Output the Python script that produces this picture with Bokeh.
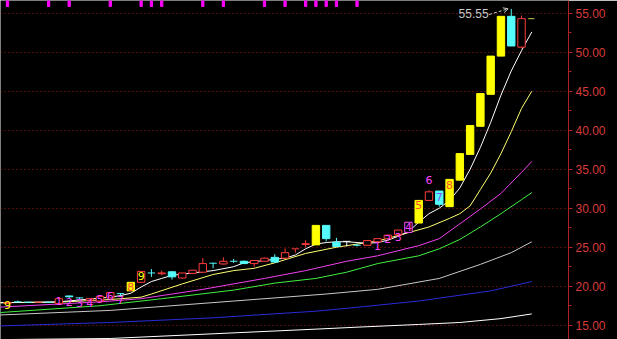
import numpy as np
from bokeh.plotting import figure
from bokeh.models import Range1d, SingleIntervalTicker, PrintfTickFormatter, Arrow, OpenHead
from bokeh.embed import file_html
from bokeh.resources import INLINE
from bokeh.core.properties import value

# ---------------- data ----------------
opens = [17.8, 18.0, 17.95, 17.9, 17.95, 17.8, 18.75, 18.5, 18.2, 18.1,
         18.5, 19.05, 19.4, 20.5, 21.7, 21.6, 21.85, 21.05, 21.65, 21.8,
         22.95, 22.85, 23.2, 23.2, 22.9, 23.2, 23.7, 23.6, 24.75, 25.35,
         25.3, 27.8, 25.65, 25.75, 25.25, 25.25, 25.7, 26.1, 26.6, 26.9,
         28.1, 31.0, 32.2, 30.2, 33.6, 36.9, 40.5, 44.6, 49.5, 54.6, 50.65]
highs = [17.95, 18.15, 18.0, 18.0, 18.0, 18.45, 18.8, 18.55, 18.5, 18.75,
         19.25, 19.1, 20.5, 21.95, 22.2, 22.0, 21.9, 21.7, 22.1, 23.6,
         23.0, 23.7, 23.5, 23.3, 23.35, 23.65, 24.1, 24.85, 24.8, 25.9,
         27.8, 27.85, 26.2, 25.75, 25.45, 25.9, 26.1, 26.6, 27.2, 28.2,
         31.0, 32.3, 32.2, 33.7, 37.0, 40.6, 44.7, 49.5, 54.6, 55.55, 54.7]
lows = [17.75, 17.9, 17.85, 17.85, 17.9, 17.75, 18.5, 18.2, 18.1, 18.05,
        18.45, 18.7, 19.4, 20.45, 21.2, 21.4, 20.85, 21.0, 21.6, 21.75,
        22.3, 22.8, 23.0, 22.85, 22.5, 23.15, 23.0, 23.55, 24.3, 25.0,
        25.3, 25.75, 25.1, 25.1, 25.1, 25.2, 25.6, 26.05, 26.5, 26.9,
        28.1, 31.0, 30.2, 30.2, 33.6, 36.9, 40.5, 44.6, 49.5, 50.8, 50.5]
closes = [17.9, 18.0, 17.9, 17.95, 17.95, 18.4, 18.65, 18.45, 18.4, 18.7,
          19.2, 19.0, 20.5, 21.9, 21.7, 21.7, 21.2, 21.7, 22.05, 22.9,
          22.95, 23.2, 23.2, 22.9, 23.3, 23.6, 23.1, 24.3, 24.8, 25.45,
          27.8, 26.1, 25.1, 25.75, 25.25, 25.85, 26.1, 26.55, 27.2, 28.2,
          31.0, 32.1, 30.5, 33.7, 37.0, 40.6, 44.7, 49.5, 54.6, 50.8, 54.3]
kinds = ["u", "d", "d", "u", "d", "u", "d", "d", "u", "u",
         "u", "d", "y", "u", "d", "u", "d", "u", "u", "u",
         "d", "u", "d", "d", "u", "u", "d", "u", "u", "u",
         "y", "d", "d", "w", "d", "u", "u", "u", "u", "m",
         "y", "u", "d", "y", "y", "y", "y", "y", "y", "d", "u"]

# moving averages: (candle index, value)
ma5_idx = [-1, 0, 5, 10, 11, 12, 13, 14, 15, 16, 18, 20, 22, 23, 25, 27, 28, 29, 30,
           31, 32, 33, 34, 35, 36, 37, 38, 39, 40, 41, 42, 43, 44, 45, 46, 47, 48, 49, 50, 51]
ma5_val = [17.9, 17.9, 18.0, 18.6, 18.8, 19.1, 19.9, 20.6, 21.0, 21.4, 21.7, 22.0, 22.5, 23.0,
           23.3, 23.6, 24.0, 24.8, 25.4, 25.6, 25.7, 25.7, 25.6, 25.5, 25.6, 25.9, 26.4, 27.0,
           28.2, 29.3, 30.0, 31.0, 32.6, 35.0, 37.8, 41.0, 44.5, 47.6, 50.2, 52.6]
ma10_idx = [-1, 0, 5, 10, 13, 14, 17, 20, 22, 24, 26, 29, 32, 34, 36, 38, 41, 43, 44, 45,
            46, 47, 48, 49, 50, 51]
ma10_val = [17.85, 17.9, 17.95, 18.3, 18.6, 19.0, 20.3, 21.5, 22.0, 22.3, 23.0, 24.2, 25.0,
            25.4, 25.8, 26.5, 27.6, 28.7, 29.3, 30.3, 32.4, 34.5, 37.0, 39.8, 42.8, 45.0]
ma20_idx = [-1, 9, 13, 19, 25, 29, 33, 36, 40, 42, 44, 46, 48, 50, 51]
ma20_val = [17.3, 18.0, 18.4, 19.6, 21.0, 22.0, 23.2, 23.9, 25.2, 26.1, 28.0, 29.9, 31.9, 34.6, 36.0]
ma30_idx = [-1, 9, 15, 22, 26, 30, 33, 36, 40, 42, 44, 46, 48, 50, 51]
ma30_val = [16.6, 17.5, 18.4, 19.5, 20.4, 21.0, 21.8, 22.9, 23.9, 24.8, 26.0, 27.6, 29.3, 31.1, 32.0]
ma60_idx = [-1, 10, 16, 22, 27, 31, 36, 42, 46, 49, 51]
ma60_val = [16.3, 16.9, 17.5, 18.1, 18.6, 19.0, 19.6, 21.0, 22.8, 24.3, 25.7]
ma120_idx = [-1, 10, 20, 30, 34, 40, 47, 51]
ma120_val = [14.9, 15.35, 15.95, 16.8, 17.3, 18.1, 19.4, 20.6]
ma250_idx = [-1, 10, 20, 30, 34, 40, 44, 48, 51]
ma250_val = [13.15, 13.3, 13.9, 14.5, 14.75, 15.1, 15.35, 15.85, 16.45]

# nine-turn sequence labels
seq_idx = [0, 5, 6, 7, 8, 9, 10, 11, 12, 13, 36, 37, 38, 39, 40, 41, 42, 43]
seq_txt = ["9", "1", "2", "3", "4", "5", "6", "7", "8", "9", "1", "2", "3", "4", "5", "6", "7", "8"]
seq_y = [17.55, 18.1, 18.0, 17.8, 17.8, 18.3, 18.75, 18.25, 19.95, 21.25,
         25.1, 26.1, 26.3, 27.55, 30.4, 33.6, 31.4, 33.0]
seq_col = ["y", "m", "m", "m", "m", "m", "m", "m", "r", "y",
           "m", "m", "m", "m", "r", "m", "v", "r"]

# signal marks along the top edge
signal_idx = [0, 4, 6, 10, 13, 14, 15, 19, 21, 25, 27, 29, 30, 31, 32, 34]

# ---------------- styling ----------------
KCOL = {"u": "#ff3c3c", "d": "#54fcfc", "y": "#ffff00", "m": "#ff50ff", "w": "#ffffff"}
LCOL = {"y": "#ffff00", "m": "#ff40ff", "r": "#ff4a30", "v": "#8a4cff"}
BODY_W = 0.72

X0, X1 = -0.68, 54.57
Y0, Y1 = 13.17, 56.63

p = figure(width=617, height=339, output_backend="svg", toolbar_location=None,
           x_range=Range1d(X0, X1), y_range=Range1d(Y0, Y1),
           x_axis_location=None, y_axis_location="right")
p.min_border = 0
p.min_border_right = 49
p.background_fill_color = "black"
p.border_fill_color = "black"
p.outline_line_color = None
p.xgrid.visible = False

yax = p.yaxis[0]
yax.ticker = SingleIntervalTicker(interval=5, num_minor_ticks=2)
yax.formatter = PrintfTickFormatter(format="%.2f")
yax.axis_line_color = "#b02020"
yax.major_tick_line_color = "#b02020"
yax.minor_tick_line_color = "#b02020"
yax.major_tick_in = 0
yax.major_tick_out = 4
yax.minor_tick_in = 0
yax.minor_tick_out = 3
yax.major_label_standoff = 3
yax.major_label_text_color = "#d83c3c"
yax.major_label_text_font = "Liberation Sans"
yax.major_label_text_font_size = "12px"

p.ygrid.grid_line_color = "#9a1c1c"
p.ygrid.grid_line_dash = "1 3"
p.ygrid.grid_line_width = 1

# moving averages
for idx, val, col in [(ma250_idx, ma250_val, "#ffffff"),
                      (ma120_idx, ma120_val, "#2a2ad8"),
                      (ma60_idx, ma60_val, "#c8c8c8"),
                      (ma30_idx, ma30_val, "#40f040"),
                      (ma20_idx, ma20_val, "#f040f0"),
                      (ma10_idx, ma10_val, "#ffff70"),
                      (ma5_idx, ma5_val, "#ffffff")]:
    p.line(idx, val, line_color=col, line_width=1)

# candles
o = np.array(opens); h = np.array(highs); l = np.array(lows); c = np.array(closes)
xs = np.arange(len(o))
top = np.maximum(o, c); bot = np.minimum(o, c)
for k, col in KCOL.items():
    sel = np.array([kk == k for kk in kinds])
    if not sel.any():
        continue
    hollow = k in ("u", "m")
    xi = xs[sel]; ti = top[sel]; bi = bot[sel]; hi = h[sel]; li = l[sel]
    flat = (ti - bi) < 0.08
    if hollow:
        p.segment(xi, ti, xi, hi, line_color=col, line_width=1)
        p.segment(xi, li, xi, bi, line_color=col, line_width=1)
    else:
        p.segment(xi, li, xi, hi, line_color=col, line_width=1)
    nb = ~flat
    if nb.any():
        p.vbar(x=xi[nb], width=BODY_W, top=ti[nb], bottom=bi[nb],
               fill_color="black" if hollow else col, line_color=col, line_width=1)
    if flat.any():
        p.segment(xi[flat] - BODY_W / 2, ti[flat], xi[flat] + BODY_W / 2, ti[flat],
                  line_color=col, line_width=1)

# last close marker
p.segment([xs[-1] + 0.65], [c[-1]], [xs[-1] + 1.25], [c[-1]], line_color="#c8c850", line_width=1)

# sequence labels
p.text(x=seq_idx, y=seq_y, text=seq_txt, text_color=[LCOL[k] for k in seq_col],
       text_align="center", text_baseline="middle",
       text_font=value("DejaVu Sans"), text_font_size="11px")

# top signal marks
sig_h = (Y1 - Y0) * 6 / 339
p.vbar(x=signal_idx, width=0.22, top=Y1, bottom=Y1 - sig_h,
       fill_color="#ff00ff", line_color="#ff00ff")

# high annotation
imax = int(np.argmax(h)); hmax = h[imax]
p.text(x=[imax - 2.2], y=[hmax - 0.55], text=[f"{hmax:.2f}"], text_color="#c8c8c8",
       text_align="right", text_baseline="middle",
       text_font=value("Liberation Sans"), text_font_size="12px")
p.add_layout(Arrow(x_start=imax - 2.15, y_start=hmax - 0.72, x_end=imax - 0.3, y_end=hmax + 0.02,
                   line_color="#c8c8c8", line_width=1, line_dash="3 2",
                   end=OpenHead(size=5, line_color="#c8c8c8", line_width=1)))

open("out.html", "w").write(file_html(p, INLINE))
